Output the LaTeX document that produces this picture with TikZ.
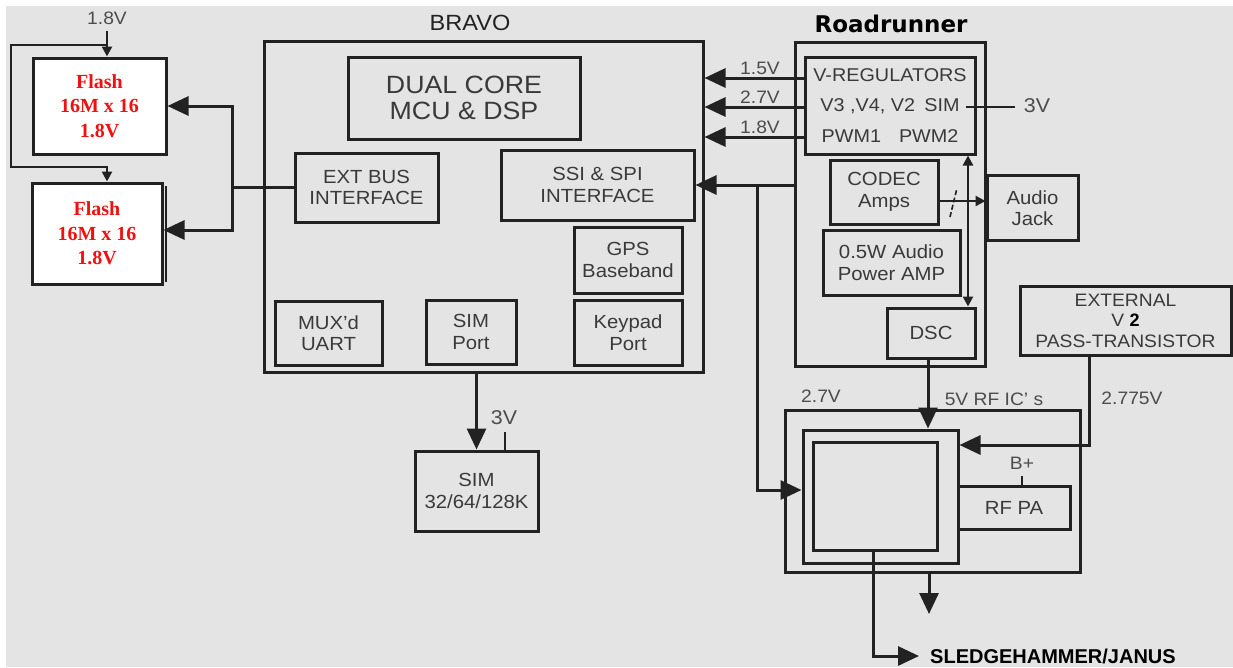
\documentclass[tikz,border=0pt]{standalone}
\usepackage{fontspec}
\setmainfont{Liberation Sans}[FakeStretch=1.07]
\newfontfamily\plainsans{Liberation Sans}
\newfontfamily\flashfont{Liberation Serif}
\newfontfamily\rrfont{DejaVu Sans}
\usetikzlibrary{arrows.meta}
\definecolor{bg}{HTML}{E4E4E4}
\definecolor{ln}{HTML}{222222}
\definecolor{tx}{HTML}{3A3A3A}
\definecolor{vl}{HTML}{4C4C4C}
\definecolor{fred}{HTML}{F01010}
\begin{document}
\begin{tikzpicture}[x=1pt,y=-1pt,
  blk/.style={draw=ln, line width=3pt, inner sep=0pt, text=tx, align=center,
              font=\fontsize{19}{21.5}\selectfont},
  flash/.style={fill=white, text=fred, font=\flashfont\bfseries\fontsize{20}{24.5}\selectfont},
  wire/.style={draw=ln, line width=3pt},
  arr/.style={wire, -{Triangle[length=21pt,width=19pt]}},
  sarr/.style={draw=ln, line width=2.4pt, -{Triangle[length=10pt,width=10pt]}},
  vlab/.style={text=vl, inner sep=0pt, font=\fontsize{18}{20}\selectfont},
]
\fill[bg] (6,6) rectangle (1233,667);
\useasboundingbox (0,0) rectangle (1233,667);

% ---------- Flash memories ----------
\node[blk, flash, minimum width=133pt, minimum height=96pt] (flash1) at (99.5,106) {Flash\\16M x 16\\1.8V};
\node[blk, flash, minimum width=130pt, minimum height=101pt] (flash2) at (97,233.5) {Flash\\16M x 16\\1.8V};
\draw[ln, line width=2pt] (165.5,186) -- (165.5,282);

\node[vlab] (l18top) at (107,18) {1.8V};
\coordinate (ptop) at (107,31);
\coordinate (pl1) at (107,45);
\coordinate (pl2) at (11,167);
\draw[sarr] (ptop) -- (ptop |- flash1.north);
\draw[sarr] (pl1) -| (pl2) -| (flash2.north -| pl1);

% ---------- BRAVO ----------
\node[blk, minimum width=439pt, minimum height=331pt] (bravo) at (483.5,206.5) {};
\node[text=ln, inner sep=0pt, font=\fontsize{22}{24}\selectfont] (bravolab) at (470,23) {BRAVO};
\node[blk, minimum width=232pt, minimum height=82pt, font=\fontsize{25}{25.5}\selectfont] (dual) at (464,98) {DUAL CORE\\MCU \& DSP};
\node[blk, minimum width=143pt, minimum height=69pt] (extbus) at (366.5,187.5) {EXT BUS\\INTERFACE};
\node[blk, minimum width=193pt, minimum height=70pt] (ssi) at (597.5,185) {SSI \& SPI\\INTERFACE};
\node[blk, minimum width=108pt, minimum height=66pt] (gps) at (628,260) {GPS\\Baseband};
\node[blk, minimum width=107pt, minimum height=64pt] (mux) at (328.5,333) {MUX'd\\UART};
\node[blk, minimum width=90pt, minimum height=64pt] (simport) at (471,332) {SIM\\Port};
\node[blk, minimum width=108pt, minimum height=65pt] (keypad) at (628,332.5) {Keypad\\Port};

% external bus to flashes
\coordinate (bus) at (232,187.5);
\draw[wire] (extbus.west) -- (bus);
\draw[arr] (bus) |- (flash1.east);
\draw[arr] (bus) |- ([yshift=3.5pt]flash2.east);

% ---------- SIM card ----------
\node[blk, minimum width=123pt, minimum height=80pt] (simcard) at (476.5,491) {SIM\\32/64/128K};
\draw[arr] (simcard.north |- bravo.south) -- (simcard.north);
\coordinate (sim3v) at (505,432);
\draw[wire, line width=2.2pt] (sim3v) -- (sim3v |- simcard.north);
\node[vlab, font=\fontsize{20}{22}\selectfont] (l3vsim) at (504,418) {3V};

% ---------- Roadrunner ----------
\node[blk, minimum width=190pt, minimum height=324pt] (road) at (890,204) {};
\node[text=black, inner sep=0pt, font=\rrfont\bfseries\fontsize{23}{25}\selectfont] (roadlab) at (891,24) {Roadrunner};
\node[blk, minimum width=170pt, minimum height=97pt, font=\fontsize{18.5}{30.5}\selectfont] (vreg) at (890,105.5)
  {V-REGULATORS\\V3 ,V4, V2\enspace SIM\\PWM1\hspace{18pt}PWM2};
\node[blk, minimum width=108pt, minimum height=64pt] (codec) at (884,192) {CODEC\\Amps};
\node[blk, minimum width=137pt, minimum height=65pt] (amp) at (891.5,262.5) {0.5W Audio\\Power AMP};
\node[blk, minimum width=88pt, minimum height=50pt] (dsc) at (931,333) {DSC};
\node[blk, minimum width=91pt, minimum height=65pt] (jack) at (1032.5,208) {Audio\\Jack};
\node[blk, minimum width=211pt, minimum height=69pt, font=\fontsize{18}{20.5}\selectfont] (ext) at (1125.5,320.5)
  {EXTERNAL\\V {\plainsans\bfseries\color{black}2}\\PASS-TRANSISTOR};

% regulator outputs to BRAVO
\foreach \yy/\lab/\nm in {78/1.5V/a,107/2.7V/b,137/1.8V/c}{
  \draw[arr] (vreg.west |- 0,\yy) -- (bravo.east |- 0,\yy);
  \node[vlab] (lv\nm) at (760,\yy-10) {\lab};
}
% SIM 3V
\coordinate (sim3a) at (966,107);
\coordinate (sim3b) at (1015,107);
\draw[wire, line width=2.2pt] (sim3a) -- (sim3b);
\node[vlab, font=\fontsize{20}{22}\selectfont] (l3v) at (1037,106) {3V};

% SSI link
\draw[arr] (road.west |- ssi.east) -- (ssi.east);
\coordinate (tap) at (757,185);

% codec to audio jack
\draw[sarr] (codec.east |- 0,201) -- (jack.west |- 0,201);
\draw[ln, line width=1.6pt, dash pattern=on 5pt off 2.5pt] (950,217) -- (957,188);
% double arrow
\draw[draw=ln, line width=2.4pt, {Triangle[length=10pt,width=10pt]}-{Triangle[length=10pt,width=10pt]}]
  (vreg.south -| 968,0) -- (dsc.north -| 968,0);

% ---------- RF section ----------
\node[blk, minimum width=295pt, minimum height=162pt] (rfout) at (932.5,491) {};
\node[blk, minimum width=155pt, minimum height=133pt] (rfmid) at (880.5,496.5) {};
\node[blk, minimum width=124pt, minimum height=108pt] (rfin) at (875,496) {};
\node[blk, minimum width=112pt, minimum height=43pt] (rfpa) at (1014,507.5) {RF PA};

\draw[arr] (tap) |- ([yshift=6.5pt]rfmid.west);
\node[vlab] (l27rf) at (821,396) {2.7V};

\draw[arr] ([xshift=-3pt]dsc.south) -- ([xshift=-3pt]dsc.south |- rfmid.north);
\node[vlab] (l5v) at (994,399) {5V RF IC' s};

\coordinate (e1) at (1089,445);
\draw[arr] (ext.south -| e1) -- (e1) -- (rfmid.east |- e1);
\node[vlab] (l2775) at (1132,398) {2.775V};

\coordinate (bplus) at (1022,476);
\draw[wire, line width=2.2pt] (bplus) -- (bplus |- rfpa.north);
\node[vlab] (lbp) at (1022,463) {B+};

\coordinate (gnd) at (929,614);
\draw[arr] (rfout.south -| gnd) -- (gnd);

\node[anchor=west, inner sep=0pt, text=black, font=\plainsans\bfseries\fontsize{20}{22}\selectfont] (sledge) at (930,656) {SLEDGEHAMMER/JANUS};
\draw[arr] (rfin.south -| 873,0) |- ([xshift=-11pt]sledge.west);
\end{tikzpicture}
\end{document}
